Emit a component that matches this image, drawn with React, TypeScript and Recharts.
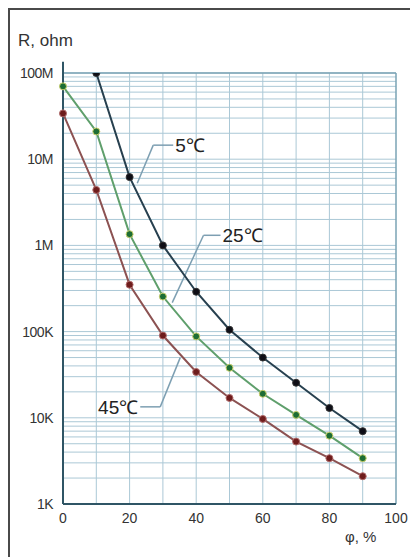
import React from "react";
import { LineChart, Line, XAxis, YAxis, ReferenceLine, ReferenceDot } from "recharts";

// relative humidity, %
const phi = [0, 10, 20, 30, 40, 50, 60, 70, 80, 90];
// resistance, ohm
const r5C = [null, 1.0e8, 6.2e6, 1.0e6, 2.9e5, 1.05e5, 5.0e4, 2.55e4, 1.3e4, 7.0e3];
const r25C = [7.0e7, 2.1e7, 1.35e6, 2.55e5, 8.8e4, 3.8e4, 1.9e4, 1.08e4, 6.2e3, 3.4e3];
const r45C = [3.4e7, 4.4e6, 3.5e5, 9.0e4, 3.4e4, 1.7e4, 9.7e3, 5.3e3, 3.4e3, 2.1e3];

const xTicks = [0, 20, 40, 60, 80, 100];
const xGrid = [10, 20, 30, 40, 50, 60, 70, 80, 90];
const yTicks = [1e3, 1e4, 1e5, 1e6, 1e7, 1e8];
const yTickLabels = ["1K", "10K", "100K", "1M", "10M", "100M"];
const minorSteps = [2, 3, 4, 5, 6, 7, 8, 9];

const data = phi.map((p, i) => ({ phi: p, t5: r5C[i], t25: r25C[i], t45: r45C[i] }));
const yMinor = yTicks.slice(0, -1).flatMap((d) => minorSteps.map((m) => d * m));

const GRID = "#abc8d6";
const AXIS = "#2f5565";
const LEADER = "#7d9fb2";
const font = "'Liberation Sans', Arial, sans-serif";
const narrow = "'Liberation Sans Narrow', 'Liberation Sans', Arial, sans-serif";

export default function App() {
  const tickFmt = (v: number) => yTickLabels[yTicks.indexOf(v)] ?? "";
  return (
    <div style={{ position: "fixed", left: 0, top: 0, width: 410, height: 557, overflow: "hidden", background: "#fff", fontFamily: font }}>
      <div style={{ position: "absolute", left: 8, top: 8, width: 420, height: 560, borderLeft: "2px solid #4a4a4a", borderTop: "2px solid #4a4a4a" }} />
      <div style={{ position: "absolute", left: 18, top: 31, fontSize: 17, color: "#333" }}>R, ohm</div>
      <div style={{ position: "absolute", left: 345, top: 528, fontSize: 15, color: "#333" }}>φ, %</div>
      <div style={{ position: "absolute", left: 0, top: 0 }}>
        <LineChart width={410} height={545} data={data} margin={{ top: 73, right: 14, left: 0, bottom: 11 }}>
          {xGrid.map((x) => (
            <ReferenceLine key={"vx" + x} x={x} stroke={GRID} strokeWidth={1} />
          ))}
          {yMinor.map((y) => (
            <ReferenceLine key={"hy" + y} y={y} stroke={GRID} strokeWidth={1} />
          ))}
          {yTicks.map((y) => (
            <ReferenceLine key={"hm" + y} y={y} stroke={GRID} strokeWidth={1} />
          ))}
          <ReferenceLine y={1e8} stroke="#7aa3b5" strokeWidth={1.5} />
          <ReferenceLine x={100} stroke="#7aa3b5" strokeWidth={1.5} />
          <ReferenceLine segment={[{ x: 0, y: 1e8 }, { x: 0, y: 1.35e8 }]} stroke={AXIS} strokeWidth={2} ifOverflow="visible" />
          <XAxis
            type="number"
            dataKey="phi"
            domain={[0, 100]}
            ticks={xTicks}
            tickSize={0}
            tickMargin={9}
            height={30}
            axisLine={{ stroke: AXIS, strokeWidth: 2 }}
            tick={{ fontSize: 14, fill: "#333", fontFamily: font }}
          />
          <YAxis
            scale="log"
            domain={[1e3, 1e8]}
            ticks={yTicks}
            tickFormatter={tickFmt}
            tickSize={0}
            tickMargin={10}
            width={63}
            allowDataOverflow
            axisLine={{ stroke: AXIS, strokeWidth: 2 }}
            tick={{ fontSize: 14, fill: "#333", fontFamily: font, letterSpacing: -0.5 }}
          />
          {/* leader lines */}
          <ReferenceLine segment={[{ x: 22.3, y: 5.26e6 }, { x: 27.1, y: 1.455e7 }]} stroke={LEADER} strokeWidth={1.5} />
          <ReferenceLine segment={[{ x: 27.1, y: 1.455e7 }, { x: 33.1, y: 1.455e7 }]} stroke={LEADER} strokeWidth={1.5} />
          <ReferenceLine segment={[{ x: 32.8, y: 2.17e5 }, { x: 42.2, y: 1.31e6 }]} stroke={LEADER} strokeWidth={1.5} />
          <ReferenceLine segment={[{ x: 42.2, y: 1.31e6 }, { x: 47.3, y: 1.31e6 }]} stroke={LEADER} strokeWidth={1.5} />
          <ReferenceLine segment={[{ x: 35.2, y: 4.99e4 }, { x: 29.2, y: 1.34e4 }]} stroke={LEADER} strokeWidth={1.5} />
          <ReferenceLine segment={[{ x: 29.2, y: 1.34e4 }, { x: 23.2, y: 1.34e4 }]} stroke={LEADER} strokeWidth={1.5} />
          <Line
            dataKey="t45"
            stroke="#8c5252"
            strokeWidth={2}
            dot={{ r: 3.5, fill: "#6e1c1c", stroke: "#b06a6a", strokeWidth: 1 }}
            isAnimationActive={false}
          />
          <Line
            dataKey="t25"
            stroke="#5f9f6c"
            strokeWidth={2}
            dot={{ r: 3.5, fill: "#1d6d35", stroke: "#c9cf6a", strokeWidth: 1 }}
            isAnimationActive={false}
          />
          <Line
            dataKey="t5"
            stroke="#27404f"
            strokeWidth={2}
            dot={{ r: 3.5, fill: "#0e0e16", stroke: "#333", strokeWidth: 1 }}
            isAnimationActive={false}
          />
          <ReferenceDot x={33.1} y={1.455e7} r={0} fill="none" stroke="none"
            label={{ value: "5℃", position: "right", offset: 2, fontSize: 19, fill: "#222", fontFamily: narrow }} />
          <ReferenceDot x={47.3} y={1.31e6} r={0} fill="none" stroke="none"
            label={{ value: "25℃", position: "right", offset: 2, fontSize: 19, fill: "#222", fontFamily: narrow }} />
          <ReferenceDot x={23.2} y={1.34e4} r={0} fill="none" stroke="none"
            label={{ value: "45℃", position: "left", offset: 2, fontSize: 19, fill: "#222", fontFamily: narrow }} />
        </LineChart>
      </div>
    </div>
  );
}
